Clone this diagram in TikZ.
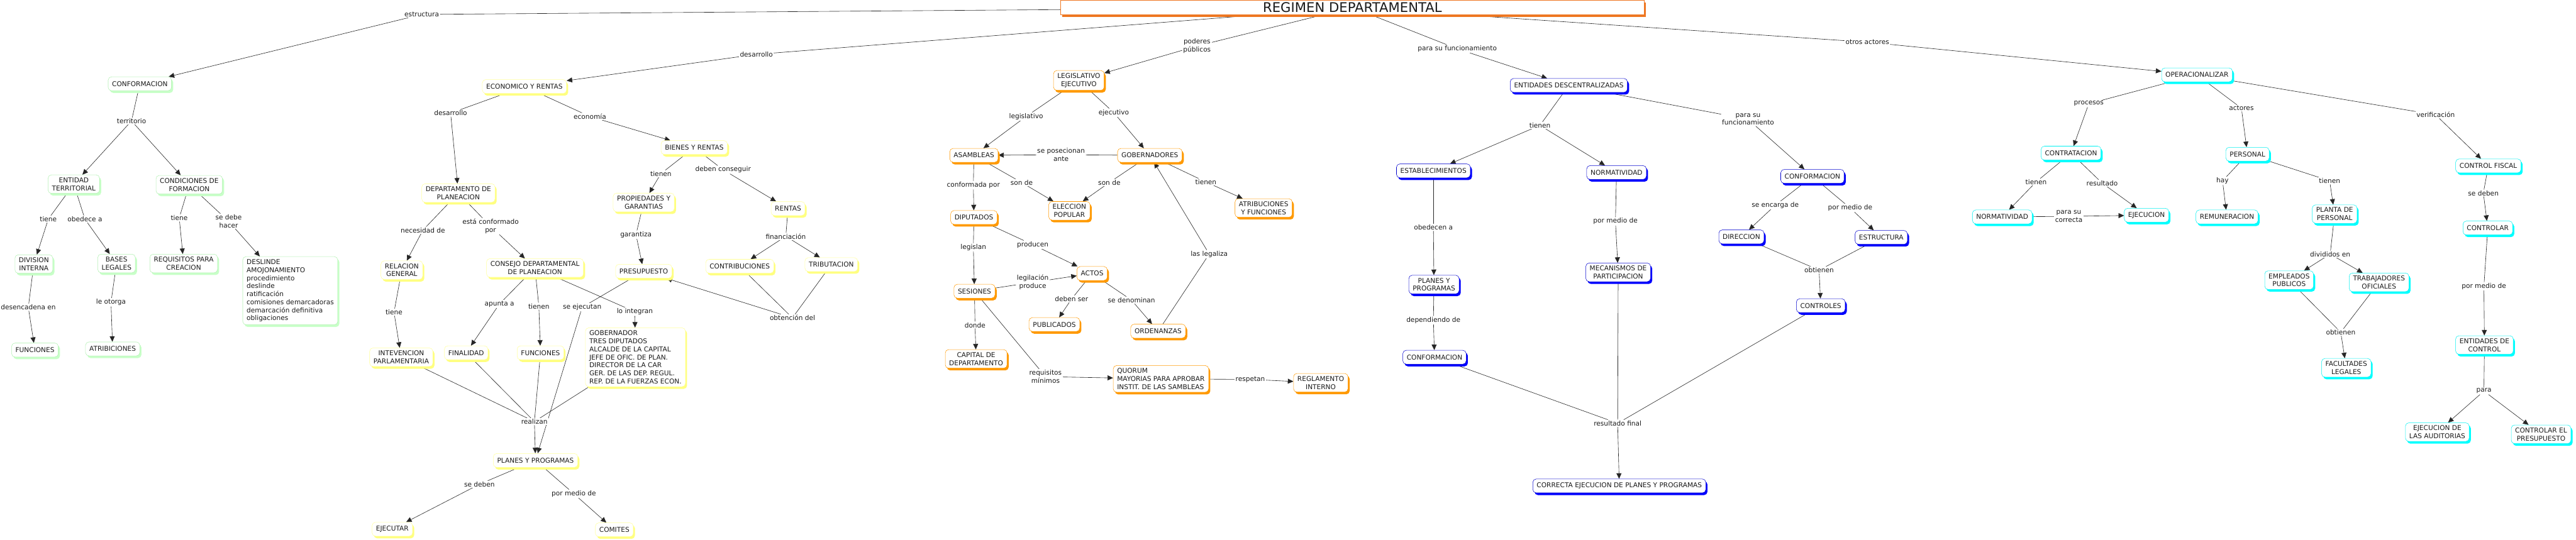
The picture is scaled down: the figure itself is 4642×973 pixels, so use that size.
\documentclass[tikz,border=0pt]{standalone}
\usepackage{fontspec}
\setmainfont{DejaVu Sans}
\usetikzlibrary{arrows.meta,shadows}
\definecolor{gB}{HTML}{B0F0B0}
\definecolor{gS}{HTML}{C8FFC8}
\definecolor{yB}{HTML}{FFFF9A}
\definecolor{yS}{HTML}{FFFF80}
\definecolor{oB}{HTML}{FF9900}
\definecolor{oS}{HTML}{FF9900}
\definecolor{bB}{HTML}{0000CC}
\definecolor{bS}{HTML}{0000FF}
\definecolor{cB}{HTML}{00F0F0}
\definecolor{cS}{HTML}{00FFFF}
\definecolor{tB}{HTML}{EE7722}
\definecolor{txt}{HTML}{1A1A1A}
\pgfdeclarelayer{bg}
\pgfsetlayers{bg,main}
\newcommand\cmapedge[3]{%
  \begin{pgfonlayer}{bg}
  \foreach \s in {#1} {\draw[ln] (\s) -- (#2);}
  \foreach \t in {#3} {\draw[arr] (#2) -- (\t);}
  \end{pgfonlayer}}
\begin{document}
\begin{tikzpicture}[x=1pt,y=-1pt,
  base/.style={rounded corners=6pt, fill=white, line width=0.6pt, inner xsep=7pt, inner ysep=5pt,
    minimum height=25pt, align=center, text=txt, font=\fontsize{12}{14.5}\selectfont},
  gbox/.style={base, draw=gB, drop shadow={shadow xshift=3pt,shadow yshift=-4pt,fill=gS,opacity=1}},
  ybox/.style={base, draw=yB, drop shadow={shadow xshift=3pt,shadow yshift=-4pt,fill=yS,opacity=1}},
  obox/.style={base, draw=oB, drop shadow={shadow xshift=3pt,shadow yshift=-4pt,fill=oS,opacity=1}},
  bbox/.style={base, draw=bB, drop shadow={shadow xshift=3pt,shadow yshift=-4pt,fill=bS,opacity=1}},
  cbox/.style={base, draw=cB, drop shadow={shadow xshift=3pt,shadow yshift=-4pt,fill=cS,opacity=1}},
  lab/.style={fill=white, inner sep=1.5pt, align=center, text=txt, font=\fontsize{12}{14.5}\selectfont},
  ln/.style={line width=0.7pt, draw=black!85},
  arr/.style={ln, -{Triangle[length=10pt,width=9pt]}},
]
\useasboundingbox (0,0) rectangle (4642,973);

% ---------- title
\node[draw=tB, line width=0.8pt, fill=white, minimum width=1052pt, minimum height=27pt, inner sep=0pt,
  font=\fontsize{24}{26}\selectfont, text=txt,
  drop shadow={shadow xshift=3pt,shadow yshift=-4pt,fill=tB,opacity=1}] (title) at (2437,13.5) {REGIMEN DEPARTAMENTAL};

% ---------- green
\node[gbox] (c1) at (252,151) {CONFORMACION};
\node[gbox] (ent) at (133,332) {ENTIDAD\\TERRITORIAL};
\node[gbox] (cond) at (341,333) {CONDICIONES DE\\FORMACION};
\node[gbox] (div) at (61,476) {DIVISION\\INTERNA};
\node[gbox] (bases) at (210,475) {BASES\\LEGALES};
\node[gbox] (req) at (331,475) {REQUISITOS PARA\\CREACION};
\node[gbox, align=left] (desl) at (523,524) {DESLINDE\\AMOJONAMIENTO\\procedimiento\\deslinde\\ratificación\\comisiones demarcadoras\\demarcación definitiva\\obligaciones};
\node[gbox] (funcg) at (63,631) {FUNCIONES};
\node[gbox] (atrib) at (203,629) {ATRIBICIONES};

\node[lab] (l_estr) at (760,26) {estructura};
\node[lab] (l_terr) at (237,218) {territorio};
\node[lab] (l_tiene1) at (87,395) {tiene};
\node[lab] (l_obed) at (153,395) {obedece a};
\node[lab] (l_tiene2) at (323,393) {tiene};
\node[lab] (l_sedebe) at (412,399) {se debe\\hacer};
\node[lab] (l_desen) at (51,554) {desencadena en};
\node[lab] (l_otorga) at (200,545) {le otorga};

% ---------- yellow
\node[ybox] (eco) at (945,156) {ECONOMICO Y RENTAS};
\node[ybox] (dep) at (826,348) {DEPARTAMENTO DE\\PLANEACION};
\node[ybox] (bien) at (1251,266) {BIENES Y RENTAS};
\node[ybox] (prop) at (1160,365) {PROPIEDADES Y\\GARANTIAS};
\node[ybox] (rentas) at (1420,376) {RENTAS};
\node[ybox] (rel) at (724,487) {RELACION\\GENERAL};
\node[ybox] (cons) at (964,483) {CONSEJO DEPARTAMENTAL\\DE PLANEACION};
\node[ybox] (pres) at (1160,489) {PRESUPUESTO};
\node[ybox] (contr) at (1333,480) {CONTRIBUCIONES};
\node[ybox] (trib) at (1498,477) {TRIBUTACION};
\node[ybox] (interv) at (723,644) {INTEVENCION\\PARLAMENTARIA};
\node[ybox] (fin) at (840,636) {FINALIDAD};
\node[ybox] (funcy) at (974,636) {FUNCIONES};
\node[ybox, align=left] (gob) at (1145,644) {GOBERNADOR\\TRES DIPUTADOS\\ALCALDE DE LA CAPITAL\\JEFE DE OFIC. DE PLAN.\\DIRECTOR DE LA CAR\\GER. DE LAS DEP. REGUL.\\REP. DE LA FUERZAS ECON.};
\node[ybox] (planes) at (965,830) {PLANES Y PROGRAMAS};
\node[ybox] (ejec) at (707,954) {EJECUTAR};
\node[ybox] (comites) at (1107,955) {COMITES};

\node[lab] (l_desa) at (1363,98) {desarrollo};
\node[lab] (l_desa2) at (812,204) {desarrollo};
\node[lab] (l_econ) at (1063,210) {economía};
\node[lab] (l_tienen1) at (1191,313) {tienen};
\node[lab] (l_deben) at (1303,306) {deben conseguir};
\node[lab] (l_garant) at (1146,423) {garantiza};
\node[lab] (l_financ) at (1416,426) {financiación};
\node[lab] (l_neces) at (762,415) {necesidad de};
\node[lab] (l_estac) at (884,408) {está conformado\\por};
\node[lab] (l_tiene3) at (710,563) {tiene};
\node[lab] (l_apunta) at (900,548) {apunta a};
\node[lab] (l_tienen2) at (971,552) {tienen};
\node[lab] (l_seejec) at (1049,554) {se ejecutan};
\node[lab] (l_lointeg) at (1144,562) {lo integran};
\node[lab] (l_obtenc) at (1428,573) {obtención del};
\node[lab] (l_realiz) at (963,760) {realizan};
\node[lab] (l_sedeben) at (864,873) {se deben};
\node[lab] (l_pormedio1) at (1034,890) {por medio de};

% ---------- orange
\node[obox] (leg) at (1944,145) {LEGISLATIVO\\EJECUTIVO};
\node[obox] (asam) at (1755,280) {ASAMBLEAS};
\node[obox] (gober) at (2072,280) {GOBERNADORES};
\node[obox] (elecc) at (1927,380) {ELECCION\\POPULAR};
\node[obox] (atrf) at (2277,375) {ATRIBUCIONES\\Y FUNCIONES};
\node[obox] (dip) at (1755,392) {DIPUTADOS};
\node[obox] (actos) at (1968,493) {ACTOS};
\node[obox] (ses) at (1756,525) {SESIONES};
\node[obox] (publ) at (1900,585) {PUBLICADOS};
\node[obox] (orden) at (2087,597) {ORDENANZAS};
\node[obox] (capital) at (1759,647) {CAPITAL DE\\DEPARTAMENTO};
\node[obox, align=left] (quorum) at (2092,683) {QUORUM\\MAYORIAS PARA APROBAR\\INSTIT. DE LAS SAMBLEAS};
\node[obox] (regl) at (2380,690) {REGLAMENTO\\INTERNO};

\node[lab] (l_poder) at (2157,83) {poderes\\públicos};
\node[lab] (l_legis) at (1849,210) {legislativo};
\node[lab] (l_ejecu) at (2007,203) {ejecutivo};
\node[lab] (l_poses) at (1912,279) {se posecionan\\ante};
\node[lab] (l_confp) at (1754,334) {conformada por};
\node[lab] (l_sonde1) at (1841,329) {son de};
\node[lab] (l_sonde2) at (1999,329) {son de};
\node[lab] (l_tienen3) at (2173,328) {tienen};
\node[lab] (l_legislan) at (1754,446) {legislan};
\node[lab] (l_producen) at (1861,441) {producen};
\node[lab] (l_legaliza) at (2179,458) {las legaliza};
\node[lab] (l_legprod) at (1861,509) {legilación\\produce};
\node[lab] (l_debenser) at (1931,539) {deben ser};
\node[lab] (l_denom) at (2039,541) {se denominan};
\node[lab] (l_donde) at (1757,586) {donde};
\node[lab] (l_requis) at (1884,679) {requisitos\\mínimos};
\node[lab] (l_respetan) at (2253,684) {respetan};

% ---------- blue
\node[bbox] (entd) at (2827,154) {ENTIDADES DESCENTRALIZADAS};
\node[bbox] (estab) at (2583,308) {ESTABLECIMIENTOS};
\node[bbox] (normb) at (2913,311) {NORMATIVIDAD};
\node[bbox] (plb) at (2584,513) {PLANES Y\\PROGRAMAS};
\node[bbox] (mec) at (2916,491) {MECANISMOS DE\\PARTICIPACION};
\node[bbox] (confb2) at (2585,644) {CONFORMACION};
\node[bbox] (correcta) at (2918,876) {CORRECTA EJECUCION DE PLANES Y PROGRAMAS};
\node[bbox] (confb) at (3266,318) {CONFORMACION};
\node[bbox] (dir) at (3138,427) {DIRECCION};
\node[bbox] (estr) at (3390,428) {ESTRUCTURA};
\node[bbox] (ctrls) at (3281,551) {CONTROLES};

\node[lab] (l_parasu) at (2626,88) {para su funcionamiento};
\node[lab] (l_tienen4) at (2775,226) {tienen};
\node[lab] (l_parasu2) at (3150,215) {para su\\funcionamiento};
\node[lab] (l_obedecen) at (2583,410) {obedecen a};
\node[lab] (l_pormedio2) at (2911,399) {por medio de};
\node[lab] (l_depend) at (2583,577) {dependiendo de};
\node[lab] (l_resfin) at (2915,763) {resultado final};
\node[lab] (l_encarga) at (3199,370) {se encarga de};
\node[lab] (l_pormedio3) at (3334,375) {por medio de};
\node[lab] (l_obtienen1) at (3278,487) {obtienen};

% ---------- cyan
\node[cbox] (oper) at (3959,135) {OPERACIONALIZAR};
\node[cbox] (contrat) at (3732,276) {CONTRATACION};
\node[cbox] (normc) at (3608,391) {NORMATIVIDAD};
\node[cbox] (ejecc) at (3868,388) {EJECUCION};
\node[cbox] (pers) at (4050,278) {PERSONAL};
\node[cbox] (remu) at (4013,391) {REMUNERACION};
\node[cbox] (planta) at (4207,386) {PLANTA DE\\PERSONAL};
\node[cbox] (emp) at (4125,505) {EMPLEADOS\\PUBLICOS};
\node[cbox] (trab) at (4287,509) {TRABAJADORES\\OFICIALES};
\node[cbox] (facul) at (4228,663) {FACULTADES\\LEGALES};
\node[cbox] (cfisc) at (4484,299) {CONTROL FISCAL};
\node[cbox] (controlar) at (4483,411) {CONTROLAR};
\node[cbox] (entc) at (4477,622) {ENTIDADES DE\\CONTROL};
\node[cbox] (audit) at (4392,779) {EJECUCION DE\\LAS AUDITORIAS};
\node[cbox] (cpres) at (4579,783) {CONTROLAR EL\\PRESUPUESTO};

\node[lab] (l_otros) at (3365,76) {otros actores};
\node[lab] (l_procesos) at (3764,187) {procesos};
\node[lab] (l_tienen5) at (3669,328) {tienen};
\node[lab] (l_resultado) at (3788,330) {resultado};
\node[lab] (l_parasuc) at (3728,390) {para su\\correcta};
\node[lab] (l_actores) at (4039,195) {actores};
\node[lab] (l_verif) at (4389,207) {verificación};
\node[lab] (l_hay) at (4005,326) {hay};
\node[lab] (l_tienen6) at (4198,326) {tienen};
\node[lab] (l_divid) at (4199,458) {divididos en};
\node[lab] (l_obtienen2) at (4218,599) {obtienen};
\node[lab] (l_sedeben2) at (4475,348) {se deben};
\node[lab] (l_pormedio4) at (4476,516) {por medio de};
\node[lab] (l_para) at (4476,705) {para};

% ---------- connectors
\cmapedge{title}{l_estr}{c1}
\cmapedge{title}{l_desa}{eco}
\cmapedge{title}{l_poder}{leg}
\cmapedge{title}{l_parasu}{entd}
\cmapedge{title}{l_otros}{oper}

\cmapedge{c1}{l_terr}{ent,cond}
\cmapedge{ent}{l_tiene1}{div}
\cmapedge{ent}{l_obed}{bases}
\cmapedge{cond}{l_tiene2}{req}
\cmapedge{cond}{l_sedebe}{desl}
\cmapedge{div}{l_desen}{funcg}
\cmapedge{bases}{l_otorga}{atrib}

\cmapedge{eco}{l_desa2}{dep}
\cmapedge{eco}{l_econ}{bien}
\cmapedge{bien}{l_tienen1}{prop}
\cmapedge{bien}{l_deben}{rentas}
\cmapedge{prop}{l_garant}{pres}
\cmapedge{rentas}{l_financ}{contr,trib}
\cmapedge{contr,trib}{l_obtenc}{pres}
\cmapedge{dep}{l_neces}{rel}
\cmapedge{dep}{l_estac}{cons}
\cmapedge{rel}{l_tiene3}{interv}
\cmapedge{cons}{l_apunta}{fin}
\cmapedge{cons}{l_tienen2}{funcy}
\cmapedge{cons}{l_lointeg}{gob}
\cmapedge{pres}{l_seejec}{planes}
\cmapedge{interv,fin,funcy,gob}{l_realiz}{planes}
\cmapedge{planes}{l_sedeben}{ejec}
\cmapedge{planes}{l_pormedio1}{comites}

\cmapedge{leg}{l_legis}{asam}
\cmapedge{leg}{l_ejecu}{gober}
\cmapedge{gober}{l_poses}{asam}
\cmapedge{asam}{l_confp}{dip}
\cmapedge{asam}{l_sonde1}{elecc}
\cmapedge{gober}{l_sonde2}{elecc}
\cmapedge{gober}{l_tienen3}{atrf}
\cmapedge{dip}{l_legislan}{ses}
\cmapedge{dip}{l_producen}{actos}
\cmapedge{ses}{l_legprod}{actos}
\cmapedge{actos}{l_debenser}{publ}
\cmapedge{actos}{l_denom}{orden}
\cmapedge{orden}{l_legaliza}{gober}
\cmapedge{ses}{l_donde}{capital}
\cmapedge{ses}{l_requis}{quorum}
\cmapedge{quorum}{l_respetan}{regl}

\cmapedge{entd}{l_tienen4}{estab,normb}
\cmapedge{entd}{l_parasu2}{confb}
\cmapedge{estab}{l_obedecen}{plb}
\cmapedge{normb}{l_pormedio2}{mec}
\cmapedge{plb}{l_depend}{confb2}
\cmapedge{confb2,mec,ctrls}{l_resfin}{correcta}
\cmapedge{confb}{l_encarga}{dir}
\cmapedge{confb}{l_pormedio3}{estr}
\cmapedge{dir,estr}{l_obtienen1}{ctrls}

\cmapedge{oper}{l_procesos}{contrat}
\cmapedge{contrat}{l_tienen5}{normc}
\cmapedge{contrat}{l_resultado}{ejecc}
\cmapedge{normc}{l_parasuc}{ejecc}
\cmapedge{oper}{l_actores}{pers}
\cmapedge{oper}{l_verif}{cfisc}
\cmapedge{pers}{l_hay}{remu}
\cmapedge{pers}{l_tienen6}{planta}
\cmapedge{planta}{l_divid}{emp,trab}
\cmapedge{emp,trab}{l_obtienen2}{facul}
\cmapedge{cfisc}{l_sedeben2}{controlar}
\cmapedge{controlar}{l_pormedio4}{entc}
\cmapedge{entc}{l_para}{audit,cpres}
\end{tikzpicture}
\end{document}
